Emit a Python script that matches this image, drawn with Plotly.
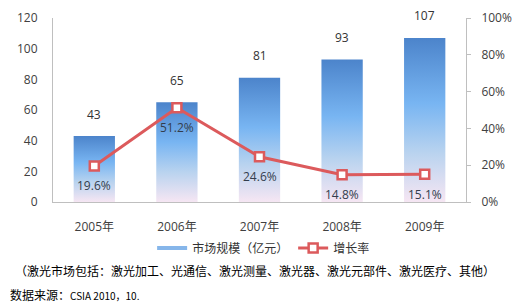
import plotly.graph_objects as go

years = ["2005年", "2006年", "2007年", "2008年", "2009年"]
market_size = [43, 65, 81, 93, 107]
growth_rate = [19.6, 51.2, 24.6, 14.8, 15.1]
left_ticks = [0, 20, 40, 60, 80, 100, 120]
right_ticks = [0, 20, 40, 60, 80, 100]

FONT = "Open Sans, Noto Sans CJK SC, sans-serif"
CJK = "Noto Sans CJK SC, sans-serif"
AXIS = "#bfbfbf"
TXT = "#404040"
RED = "#dc5a5c"
half = 0.25

fig = go.Figure()
grad = [[0, "#f6e6f3"], [0.3, "#b9d3ef"], [0.6, "#78b5f2"], [1, "#4c84cb"]]
for i, v in enumerate(market_size):
    fig.add_trace(go.Scatter(
        x=[i - half, i + half, i + half, i - half, i - half],
        y=[0, 0, v, v, 0],
        mode="none", fill="toself",
        fillgradient=dict(type="vertical", colorscale=grad),
        showlegend=False, hoverinfo="skip"))

# legend entry for bars
fig.add_trace(go.Scatter(x=[None], y=[None], mode="lines", name="市场规模（亿元）",
                         line=dict(color="#86b6ea", width=4)))

fig.add_trace(go.Scatter(
    x=list(range(len(years))), y=growth_rate, yaxis="y2", name="增长率",
    mode="lines+markers",
    line=dict(color=RED, width=3),
    marker=dict(symbol="square", size=9, color="white", line=dict(color=RED, width=2.5))))

for i, v in enumerate(market_size):
    fig.add_annotation(x=i, y=v, xref="x", yref="y", text=str(v), showarrow=False,
                       yshift=22, font=dict(family=FONT, size=12, color="#333333"))
for i, g in enumerate(growth_rate):
    fig.add_annotation(x=i, y=g, xref="x", yref="y2", text=f"{g}%", showarrow=False,
                       yshift=-20, font=dict(family=FONT, size=12, color="#333d4d"))

fig.add_annotation(xref="paper", yref="paper", x=-0.097, y=-0.37, xanchor="left", yanchor="middle",
                   text="（激光市场包括：激光加工、光通信、激光测量、激光器、激光元部件、激光医疗、其他）",
                   showarrow=False, font=dict(family=CJK, size=12, color="#000000"))
fig.add_annotation(xref="paper", yref="paper", x=-0.109, y=-0.5, xanchor="left", yanchor="middle",
                   text="数据来源：<span style='font-size:10px'>CSIA 2010，10.</span>",
                   showarrow=False, font=dict(family=CJK, size=12, color="#000000"))

fig.update_layout(
    width=525, height=305,
    margin=dict(l=53, r=59, t=18, b=103, autoexpand=False),
    plot_bgcolor="white", paper_bgcolor="white",
    font=dict(family=FONT, size=12, color=TXT),
    xaxis=dict(range=[-0.5, 4.5], tickvals=list(range(len(years))), ticktext=years,
               showgrid=False, zeroline=False, showline=True, linecolor=AXIS, linewidth=1,
               ticks="", ticklabelstandoff=14, tickfont=dict(family=FONT, size=12, color=TXT)),
    yaxis=dict(range=[0, 120], tickvals=left_ticks, showgrid=False, zeroline=False,
               showline=True, linecolor=AXIS, linewidth=1, ticks="", ticklabelstandoff=12,
               tickfont=dict(family=FONT, size=12, color=TXT)),
    yaxis2=dict(range=[0, 100], tickvals=right_ticks, ticktext=[f"{t}%" for t in right_ticks],
                overlaying="y", side="right", showgrid=False, zeroline=False,
                showline=True, linecolor=AXIS, linewidth=1, ticks="outside", ticklen=4,
                tickcolor=AXIS, ticklabelstandoff=8,
                tickfont=dict(family=FONT, size=12, color=TXT)),
    legend=dict(orientation="h", x=0.51, y=-0.25, xanchor="center", yanchor="middle",
                font=dict(family=CJK, size=12, color="#333333"), itemwidth=30,
                bgcolor="rgba(0,0,0,0)"),
)

fig.write_html("out.html", config={"displayModeBar": False},
               post_script="document.body.style.margin='0';document.body.style.overflow='hidden';")
